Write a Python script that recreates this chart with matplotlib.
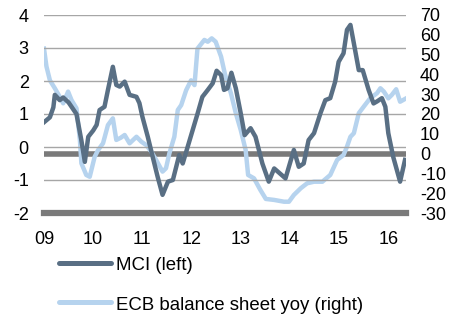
import matplotlib
matplotlib.use("Agg")
import matplotlib.pyplot as plt
from matplotlib.lines import Line2D

plt.rcParams['font.family'] = ['Liberation Sans', 'DejaVu Sans']

# MCI (left axis) — time in fractional years
mci_t = [2009.0, 2009.12, 2009.19, 2009.22, 2009.32, 2009.39, 2009.5, 2009.66, 2009.76, 2009.83,
         2009.9, 2010.0, 2010.07, 2010.13, 2010.23, 2010.3, 2010.4, 2010.47, 2010.54, 2010.64,
         2010.74, 2010.88, 2010.94, 2011.0, 2011.11, 2011.21, 2011.31, 2011.41, 2011.52, 2011.62,
         2011.75, 2011.82, 2011.92, 2012.02, 2012.12, 2012.22, 2012.33, 2012.43, 2012.51, 2012.6,
         2012.66, 2012.73, 2012.81, 2012.9, 2013.0, 2013.08, 2013.2, 2013.3, 2013.44, 2013.57,
         2013.68, 2013.91, 2014.08, 2014.18, 2014.28, 2014.38, 2014.49, 2014.62, 2014.72, 2014.82,
         2014.92, 2014.99, 2015.09, 2015.16, 2015.23, 2015.3, 2015.4, 2015.48, 2015.6, 2015.7,
         2015.77, 2015.87, 2015.94, 2016.0, 2016.1, 2016.24, 2016.34]
mci_v = [0.75, 0.9, 1.2, 1.58, 1.42, 1.5, 1.35, 1.0, 0.2, -0.45,
         0.31, 0.5, 0.67, 1.12, 1.22, 1.73, 2.43, 1.88, 1.83, 1.98,
         1.58, 1.52, 1.33, 0.92, 0.31, -0.3, -0.9, -1.45, -1.05, -1.0,
         -0.24, -0.5, 0.0, 0.5, 1.0, 1.52, 1.73, 1.93, 2.31, 2.18,
         1.73, 1.78, 2.25, 1.78, 1.02, 0.36, 0.57, 0.31, -0.5, -1.05,
         -0.65, -0.95, -0.09, -0.6, -0.5, 0.21, 0.42, 1.02, 1.42, 1.48,
         1.98, 2.58, 2.84, 3.55, 3.7, 3.14, 2.33, 2.33, 1.73, 1.32,
         1.38, 1.48, 1.22, 0.42, -0.3, -1.05, -0.39]

# ECB balance sheet yoy (right axis)
ecb_t = [2009.0, 2009.05, 2009.12, 2009.22, 2009.32, 2009.39, 2009.49, 2009.56, 2009.66, 2009.73,
         2009.76, 2009.86, 2009.93, 2010.03, 2010.1, 2010.2, 2010.3, 2010.4, 2010.47, 2010.56,
         2010.64, 2010.74, 2010.88, 2010.98, 2011.08, 2011.18, 2011.28, 2011.41, 2011.48, 2011.55,
         2011.65, 2011.72, 2011.79, 2011.89, 2011.99, 2012.06, 2012.12, 2012.26, 2012.33, 2012.41,
         2012.49, 2012.6, 2012.68, 2012.8, 2012.9, 2013.0, 2013.1, 2013.15, 2013.27, 2013.4,
         2013.51, 2013.68, 2013.88, 2013.98, 2014.08, 2014.22, 2014.35, 2014.49, 2014.66, 2014.82,
         2014.96, 2015.09, 2015.16, 2015.23, 2015.3, 2015.4, 2015.5, 2015.63, 2015.77, 2015.84,
         2015.91, 2016.0, 2016.07, 2016.16, 2016.24, 2016.34]
ecb_v = [53, 44, 37, 33, 28.7, 25.4, 31.3, 27, 22.9, 6.9,
         -4.9, -10.8, -11.7, -1.6, 1.8, 5.2, 14.4, 17.8, 6.9, 8.0,
         9.4, 5.2, 8.5, 6.0, 4.3, 1.0, -3.2, -9.1, -7.4, 0.2,
         8.5, 22.0, 24.5, 32.0, 37.0, 34.6, 53.0, 57.4, 56.5, 58.2,
         56.5, 49.0, 40.0, 30.5, 20.4, 11.9, 1.8, -10.8, -12.5, -18.4,
         -22.9, -23.4, -24.3, -24.3, -20.9, -17.5, -15.0, -14.2, -14.2, -10.8,
         -3.2, -0.7, 3.5, 8.5, 10.3, 20.4, 23.7, 27.9, 30.5, 33.0,
         31.3, 27.9, 29.6, 32.5, 26.2, 27.6]

left_ticks = [4, 3, 2, 1, 0, -1, -2]
right_ticks = [70, 60, 50, 40, 30, 20, 10, 0, -10, -20, -30]
x_ticks = [2009, 2010, 2011, 2012, 2013, 2014, 2015, 2016]
x_labels = ['09', '10', '11', '12', '13', '14', '15', '16']
legend_labels = ['MCI (left)', 'ECB balance sheet yoy (right)']

dark = '#596F84'
light = '#B6D3EE'
axis_gray = '#7A7A7A'
FS = 13
FS_LEG = 13.4

W, H = 449, 314
fig = plt.figure(figsize=(W/100, H/100), dpi=100)
ax = fig.add_axes([44/W, 1 - 213/H, (406-44)/W, (213-15)/H])
ax2 = ax.twinx()

ax.set_xlim(2009.0, 2016.36)
ax.set_ylim(-2, 4)
ax2.set_ylim(-30, 70)

for y in [4, 3, 2, 1, 0, -1]:
    ax.axhline(y, color='#A6A6A6', lw=1.0, zorder=1)
ax2.axhline(0, color=axis_gray, lw=4, zorder=1)
ax.axhline(-2, color=axis_gray, lw=4.5, zorder=1, clip_on=False)

ax2.plot(ecb_t, ecb_v, color=light, lw=3.2, solid_joinstyle='round', zorder=3)
ax.set_zorder(ax2.get_zorder() + 1)
ax.patch.set_visible(False)
ax.plot(mci_t, mci_v, color=dark, lw=3.2, solid_joinstyle='round', zorder=4)

for a in (ax, ax2):
    for s in a.spines.values():
        s.set_visible(False)
    a.tick_params(length=0, labelsize=FS, colors='black')

ax.set_yticks(left_ticks)
ax.set_yticklabels([str(t) for t in left_ticks])
ax.tick_params(axis='y', pad=11)
ax2.set_yticks(right_ticks)
ax2.set_yticklabels([str(t) for t in right_ticks])
ax2.tick_params(axis='y', pad=10)
ax.set_xticks(x_ticks)
ax.set_xticklabels(x_labels)
ax.tick_params(axis='x', pad=13)

# Legend (drawn in figure pixel coordinates)
for (ypix, col, lab) in [(263, dark, legend_labels[0]), (302, light, legend_labels[1])]:
    yf = 1 - ypix / H
    fig.add_artist(Line2D([59/W, 111/W], [yf, yf], color=col, lw=3.6,
                          solid_capstyle='round', transform=fig.transFigure))
    fig.text(116/W, 1 - (ypix + 3) / H, lab, fontsize=FS_LEG, va='center', ha='left')

fig.savefig('out.png', dpi=100)
